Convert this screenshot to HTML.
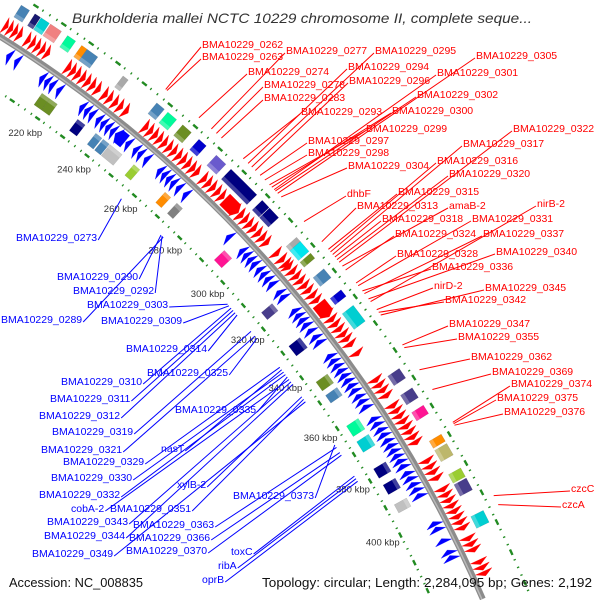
<!DOCTYPE html>
<html><head><meta charset="utf-8"><style>
html,body{margin:0;padding:0;background:#fff;width:600px;height:600px;overflow:hidden;}
svg{display:block;font-family:"Liberation Sans",sans-serif;}
</style></head><body>
<svg id="map" width="600" height="600" viewBox="0 0 600 600">
<rect width="600" height="600" fill="#fff"/>
<g id="rings"></g>
<g id="backbone"></g>
<g id="genes"></g>
<g id="boxes"></g>
<g id="ticks"></g>
<g id="labels"></g>
<text x="72" y="23" font-size="14" font-style="italic" fill="#333" textLength="460" lengthAdjust="spacingAndGlyphs">Burkholderia mallei NCTC 10229 chromosome II, complete seque...</text>
<text x="9" y="587" font-size="13" fill="#111" textLength="134" lengthAdjust="spacingAndGlyphs">Accession: NC_008835</text>
<text x="262" y="587" font-size="13" fill="#111" textLength="330" lengthAdjust="spacingAndGlyphs">Topology: circular; Length: 2,284,095 bp; Genes: 2,192</text>
</svg>
<script>
// ---- data ----
const fwdStarts=[195,196.6,198.3,200,203,204.8,206.6,208.4,210.2,218,219.8,221.6,223.5,225.4,227.3,229.3,232,233.9,236,238,240.2,248,249.9,251.8,253.7,255.6,257.6,259.5,261.5,263.4,265.3,267.2,269,272,273.9,275.8,277.8,279.7,281.6,287.8,289.8,291.7,293.6,295.6,297.5,299.4,304,306.5,308.4,309.5,311.4,313.3,315.2,317.1,319,321,322.9,324.8,330.4,332.3,334.2,336.2,338,340,343.5,353.5,355.4,357.3,359.3,363,364.9,366.8,368.7,370.6,372.5,374.4,376.3,383,385,386.9,389,393,394.9,396.8,398.7,400.6,402.5,404.4,406.3,410,411.9,413.8,418,419.9,421.8];
const fwdEnds=[196.3,198,199.7,201.4,204.4,206.2,208,209.8,211.6,219.5,221.3,223.1,225,226.9,228.8,230.8,233.5,235.4,237.5,239.5,241.7,249.5,251.4,253.3,255.2,257.1,259.1,261,263,264.9,266.8,268.7,270.5,273.5,275.4,277.3,279.3,281.2,287.5,289.4,291.3,293.2,295.1,297.1,299,300.9,305.5,308,309.9,311,312.9,314.8,316.7,318.6,320.5,322.5,324.4,330,331.9,333.8,335.7,337.7,339.5,341.5,345,355,356.9,358.8,360.8,364.5,366.4,368.3,370.2,372.1,374,375.9,377.8,384.5,386.5,388.4,390.5,394.5,396.4,398.3,400.2,402.1,404,405.9,407.8,411.5,413.4,415.3,419.5,421.4,423.3];
const revStarts=[200.5,203.5,213,214.9,216.8,219.5,228.5,230.4,232.3,235,236.9,238.8,240.7,242.6,246.9,250,251.9,254.5,260,261.9,263.8,265.7,268,271,290,296,297.9,299.8,301.7,304,306,308,310,313.5,315.4,321,322.9,324.8,326.7,329,331.5,333.5,339,340.9,342.8,344.7,346.6,348.5,350.4,352.3,354.5,356.4,358.5,363,364.9,367,368.9,371,372.9,374.8,376.7,378.6,380.5,383,384.9,387,388.9,391,401,402.9,407,411,412.9];
const revEnds=[202,205,214.5,216.4,218.3,221,230,231.9,233.8,236.5,238.4,240.3,242.2,246.5,248.4,251.5,253.4,256,261.5,263.4,265.3,267.2,269.5,272.5,291.5,297.5,299.4,301.3,303.2,305.5,307.5,309.5,311.5,315,316.9,322.5,324.4,326.3,328.2,330.5,333,335,340.5,342.4,344.3,346.2,348.1,350,351.9,353.8,356,357.9,360,364.5,366.4,368.5,370.4,372.5,374.4,376.3,378.2,380.1,382,384.5,386.4,388.5,390.4,392.5,402.5,404.4,408.5,412.5,414.4];
const outerBoxKbp=[197.6,202,204.7,208.6,214.3,219,222,234.5,248,252.6,258.5,264.8,272.4,282,291.3,295,306,308.7,312.4,319.3,327,334.7,357,364,370,380,384,392,396,407];
const outerBoxLen=[3,2,3,4,3,2,4,2,3,3.5,3.5,3,4,11,3,4,2,4,2,3.5,2.5,6,3.5,3.5,3,2.5,4,3,4,4];
const outerBoxColor=['#4682b4','#191970','#00ced1','#f08080','#00fa9a','#ff8c00','#4682b4','#a9a9a9','#4682b4','#00fa9a','#6b8e23','#0000cd','#6a5acd','#000080','#000080','#000080','#a9a9a9','#00e5ee','#6b8e23','#4682b4','#0000cd','#00ced1','#483d8b','#483d8b','#ff1493','#ff8c00','#bdb76b','#9acd32','#483d8b','#00ced1'];
const innerBoxKbp=[218,221,232,239,242,246,254.6,267.8,272.9,294.6,317,331.4,345.6,350.6,363,369,379,385,392];
const innerBoxLen=[3,3,3,2.5,2.5,5,2.5,2.5,2.5,3.5,3,4,3.5,3,4,4,3.5,3.5,3];
const innerBoxColor=['#6b8e23','#6b8e23','#000080','#4682b4','#4682b4','#c0c0c0','#9acd32','#ff8c00','#808080','#ff1493','#483d8b','#000080','#6b8e23','#4682b4','#00fa9a','#00ced1','#000080','#000080','#c0c0c0'];
const tickKbp=[220,240,260,280,300,320,340,360,380,400];
const tickText=['220 kbp','240 kbp','260 kbp','280 kbp','300 kbp','320 kbp','340 kbp','360 kbp','380 kbp','400 kbp'];
const redNames=['BMA10229_0262','BMA10229_0263','BMA10229_0277','BMA10229_0295','BMA10229_0305','BMA10229_0274','BMA10229_0294','BMA10229_0301','BMA10229_0278','BMA10229_0296','BMA10229_0283','BMA10229_0302','BMA10229_0293','BMA10229_0300','BMA10229_0299','BMA10229_0322','BMA10229_0297','BMA10229_0317','BMA10229_0298','BMA10229_0316','BMA10229_0304','BMA10229_0320','BMA10229_0315','dhbF','BMA10229_0313','amaB-2','nirB-2','BMA10229_0318','BMA10229_0331','BMA10229_0324','BMA10229_0337','BMA10229_0328','BMA10229_0340','BMA10229_0336','nirD-2','BMA10229_0345','BMA10229_0342','BMA10229_0347','BMA10229_0355','BMA10229_0362','BMA10229_0369','BMA10229_0374','BMA10229_0375','BMA10229_0376','czcC','czcA'];
const redKbp=[246,246.5,264,280.5,291.5,259,279,290,266,282,268,290.5,277,289,288,319,284,316,286,315,293,318,314,303,311,320.5,334,317,328,322,331,327,333,330,337,339,338,350,351,359,366,377.5,378,378.5,402.5,405.5];
const blueNames=['BMA10229_0273','BMA10229_0290','BMA10229_0292','BMA10229_0303','BMA10229_0289','BMA10229_0309','BMA10229_0314','BMA10229_0310','BMA10229_0325','BMA10229_0311','BMA10229_0312','BMA10229_0335','BMA10229_0319','BMA10229_0321','nasT','BMA10229_0329','BMA10229_0330','xylB-2','BMA10229_0332','BMA10229_0373','cobA-2','BMA10229_0351','BMA10229_0343','BMA10229_0363','BMA10229_0344','BMA10229_0366','BMA10229_0349','BMA10229_0370','toxC','ribA','oprB'];
const blueKbp=[257.5,275,275.5,306.3,276,307,311,308,321,309,310,337,318,320,334,333,335,345,336,364,338,346,339,365,340,367,347,368,376,377,378];
// ---- layout (label placement, not data) ----
const redPos=[[202,44],[202,56],[286,50],[375,50],[476,55],[248,71],[348,66],[437,72],[264,84],[349,80],[264,97],[417,94],[301,111],[392,110],[366,128],[513,128],[308,140],[463,143],[308,152],[437,160],[348,165],[449,173],[398,191],[347,193],[357,205],[449,205],[537,203],[382,218],[472,218],[395,233],[483,233],[397,253],[496,251],[432,266],[434,285],[485,287],[445,299],[449,323],[458,336],[471,356],[492,371],[511,383],[497,397],[504,411],[571,488],[562,504]];
const bluePos=[[16,237],[57,276],[73,290],[87,304],[1,319],[101,320],[126,348],[61,381],[147,372],[50,398],[39,415],[175,409],[52,431],[41,449],[161,448],[63,461],[51,477],[177,484],[39,494],[233,495],[71,508],[110,508],[47,521],[133,524],[44,535],[129,537],[32,553],[126,550],[231,551],[218,565],[202,579]];

const CX=-658, CY=1090, R=1242;
const NS='http://www.w3.org/2000/svg';
function deg(k){return -54.4+(k-220)*0.1485;}
function pt(k,r){const a=deg(k)*Math.PI/180;return [CX+r*Math.cos(a),CY+r*Math.sin(a)];}
function f(p){return p[0].toFixed(2)+','+p[1].toFixed(2);}
function mk(tag,attrs,parent){const e=document.createElementNS(NS,tag);for(const k in attrs)e.setAttribute(k,attrs[k]);parent.appendChild(e);return e;}
function band(s,e,r1,r2){return 'M'+f(pt(s,r1))+'A'+r1+','+r1+' 0 0 1 '+f(pt(e,r1))+'L'+f(pt(e,r2))+'A'+r2+','+r2+' 0 0 0 '+f(pt(s,r2))+'Z';}
function inView(k,r){const p=pt(k,r);return p[0]>=1&&p[1]<=598&&p[1]>=1;}

// rings
const rings=document.getElementById('rings');
[R+45,R-47].forEach(function(r){
  for(let k=190;k<=440;k+=2.5){
    if(!inView(k-1,r)||!inView(k+1,r)) continue;
    const isDash=(Math.abs(k%10)<0.01);
    const len=isDash?1.8:0.4;
    const p=mk('path',{d:band(k-len/2,k+len/2,r-1.2,r+1.2),fill:'#228b22'},rings);
    
    
  }
});

// backbone (visible arc only)
const bb=document.getElementById('backbone');
mk('path',{d:'M'+f(pt(195.2,R))+'A'+R+','+R+' 0 0 1 '+f(pt(429.5,R)),fill:'none',stroke:'#8c8c8c','stroke-width':6},bb);
mk('path',{d:'M'+f(pt(195.2,R-1))+'A'+(R-1)+','+(R-1)+' 0 0 1 '+f(pt(429.5,R-1)),fill:'none',stroke:'#b8b8b8','stroke-width':1.5},bb);

// genes
const gg=document.getElementById('genes');
function arrow(s,e,fwd,rin,rout,col){
  const rm=(rin+rout)/2, h=Math.min(e-s,1.5);
  const bi=rin+1.5, bo=rout-1.5;
  let d;
  if(fwd){
    d='M'+f(pt(s,bi))+'L'+f(pt(e-h,bi))+'L'+f(pt(e-h,rin))+'L'+f(pt(e,rm))+'L'+f(pt(e-h,rout))+'L'+f(pt(e-h,bo))+'L'+f(pt(s,bo))+'Z';
  }else{
    d='M'+f(pt(e,bi))+'L'+f(pt(s+h,bi))+'L'+f(pt(s+h,rin))+'L'+f(pt(s,rm))+'L'+f(pt(s+h,rout))+'L'+f(pt(s+h,bo))+'L'+f(pt(e,bo))+'Z';
  }
  return mk('path',{d:d,fill:col,stroke:col,'stroke-width':0.3},gg);
}
for(let i=0;i<fwdStarts.length;i++){
  const el=arrow(fwdStarts[i],fwdEnds[i],true,R+3,R+21,'#ff0000');
  
  
}
for(let i=0;i<revStarts.length;i++){
  const el=arrow(revStarts[i],revEnds[i],false,R-21,R-3,'#0000ff');
  
  
}

// boxes
const bx=document.getElementById('boxes');
for(let i=0;i<outerBoxKbp.length;i++){
  const s=outerBoxKbp[i]-outerBoxLen[i]/2,e=outerBoxKbp[i]+outerBoxLen[i]/2;
  const el=mk('path',{d:band(s,e,R+24,R+38),fill:outerBoxColor[i],stroke:'rgba(0,0,0,0.15)','stroke-width':0.5},bx);
  
  
  mk('path',{d:band(s,e,R+24,R+28),fill:'rgba(255,255,255,0.25)'},bx);
}
for(let i=0;i<innerBoxKbp.length;i++){
  const s=innerBoxKbp[i]-innerBoxLen[i]/2,e=innerBoxKbp[i]+innerBoxLen[i]/2;
  const el=mk('path',{d:band(s,e,R-38,R-24),fill:innerBoxColor[i],stroke:'rgba(0,0,0,0.15)','stroke-width':0.5},bx);
  
  
  mk('path',{d:band(s,e,R-28,R-24),fill:'rgba(255,255,255,0.25)'},bx);
}

// ticks
const tg=document.getElementById('ticks');
for(let i=0;i<tickKbp.length;i++){
  const p=pt(tickKbp[i]-0.5,R-66);
  const t=mk('text',{x:p[0].toFixed(1),y:(p[1]+3).toFixed(1),'font-size':9.5,fill:'#333','text-anchor':'middle'},tg);
  t.textContent=tickText[i];
  
  
}

// labels
const lg=document.getElementById('labels');
for(let i=0;i<redNames.length;i++){
  const x=redPos[i][0],y=redPos[i][1];
  const e=pt(redKbp[i],R+54);
  const ln=mk('line',{x1:x-1,y1:y+3,x2:e[0].toFixed(1),y2:e[1].toFixed(1),stroke:'#ff0000','stroke-width':1},lg);
  
  
  const t=mk('text',{x:x,y:y+4,'font-size':10.5,fill:'#ff0000'},lg);
  t.textContent=redNames[i];
  
  
}
for(let i=0;i<blueNames.length;i++){
  const x=bluePos[i][0],y=bluePos[i][1];
  const t=mk('text',{x:x,y:y+4,'font-size':10.5,fill:'#0000ff'},lg);
  t.textContent=blueNames[i];
  
  
  let w=blueNames[i].length*6.2;
  try{w=t.getComputedTextLength();}catch(err){}
  const e=pt(blueKbp[i],R-58);
  const ln=mk('line',{x1:(x+w+1).toFixed(1),y1:y+3,x2:e[0].toFixed(1),y2:e[1].toFixed(1),stroke:'#0000ff','stroke-width':1},lg);
  
  
}
</script>
</body></html>
